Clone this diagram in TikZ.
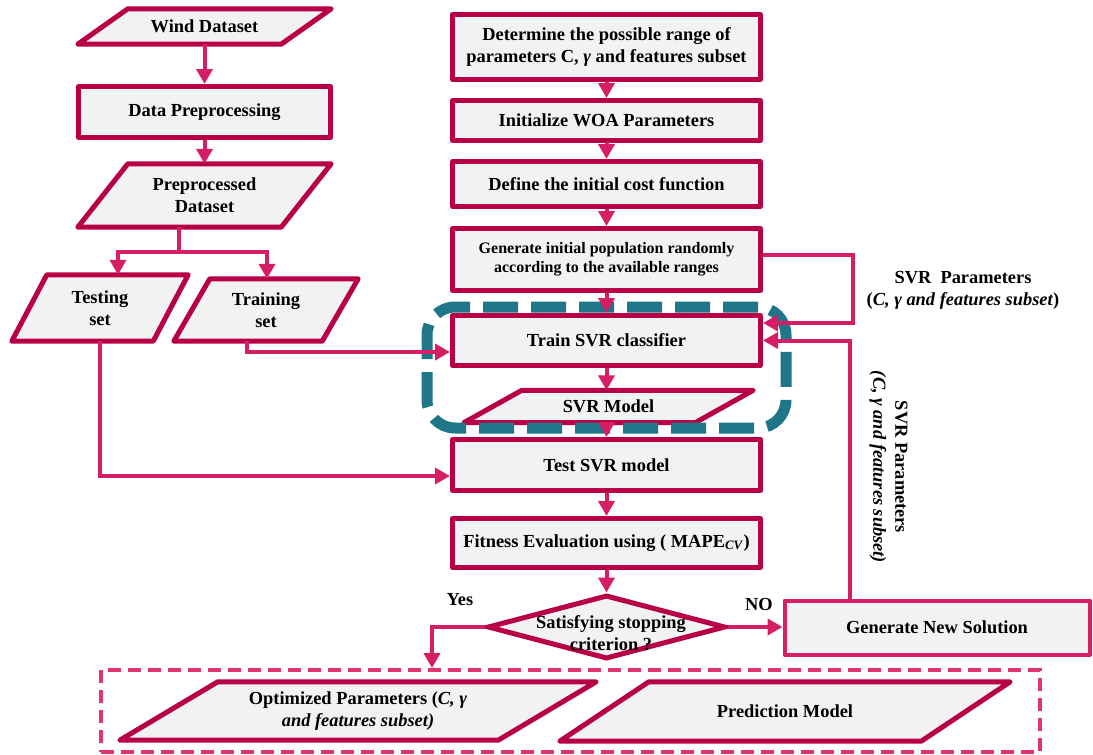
\documentclass[tikz,border=0pt]{standalone}
\usepackage{fontspec}
\setmainfont{Liberation Serif}
\usetikzlibrary{arrows.meta,shapes.geometric,backgrounds}
\definecolor{boxc}{HTML}{B80046}
\definecolor{connc}{HTML}{D61E64}
\definecolor{boxfill}{HTML}{F2F2F2}
\definecolor{tealc}{HTML}{1F7689}
\definecolor{outc}{HTML}{E2356E}
\newcommand\paradraw[2]{\begin{scope}[on background layer]\draw[parashape] ([xshift=#2]#1.north west) -- (#1.north east) -- ([xshift=-#2]#1.south east) -- (#1.south west) -- cycle;\end{scope}}
\begin{document}
\begin{tikzpicture}[x=1pt,y=-1pt,
  txtfont/.style={font=\fontsize{18.4}{22}\selectfont\bfseries},
  box/.style={txtfont,draw=boxc,line width=5pt,fill=boxfill,line join=round,inner sep=0pt,align=center,minimum width=308pt},
  para/.style={txtfont,inner sep=0pt,align=center},
  parashape/.style={draw=boxc,fill=boxfill,line width=5pt,line join=round},
  decbox/.style={diamond,draw=boxc,fill=boxfill,line width=5pt,inner sep=0pt,minimum width=238pt,minimum height=64pt},
  lbl/.style={txtfont,align=center,inner sep=0pt},
  line/.style={draw=connc,line width=4pt},
  conn/.style={line,-{Triangle[length=15pt,width=16pt]}},
  tealbox/.style={draw=tealc,line width=11pt,dash pattern=on 35pt off 13pt,rounded corners=28pt,inner sep=0pt},
  outbox/.style={draw=outc,line width=4pt,dash pattern=on 13pt off 7pt,inner sep=0pt}]
\useasboundingbox (0,0) rectangle (1093,755);

% left column
\node[para,minimum width=253pt,minimum height=35pt] (wind) at (204.5,26.5) {Wind Dataset}; \paradraw{wind}{50}
\node[box,minimum width=252pt,minimum height=51pt] (prep) at (204.5,112) {Data Preprocessing};
\node[para,minimum width=253pt,minimum height=63pt] (pre) at (204.5,195.5) {Preprocessed\\Dataset}; \paradraw{pre}{50}
\node[para,minimum width=176pt,minimum height=66pt] (testing) at (100,308) {Testing\\set}; \paradraw{testing}{35}
\node[para,minimum width=184pt,minimum height=62pt] (training) at (266,310) {Training\\set}; \paradraw{training}{36}

% right column
\node[box,minimum height=65pt] (det) at (606.5,47) {Determine the possible range of\\parameters C, \textit{γ} and features subset};
\node[box,minimum height=40pt] (init) at (606.5,120.5) {Initialize WOA Parameters};
\node[box,minimum height=45pt] (def) at (606.5,184) {Define the initial cost function};
\node[box,minimum height=62pt,font=\fontsize{16}{19}\selectfont\bfseries] (gen) at (606.5,259.5) {Generate initial population randomly\\according to the available ranges};
\node[box,minimum height=50pt] (train) at (606.5,340.5) {Train SVR classifier};
\node[para,minimum width=289pt,minimum height=32pt] (svrm) at (608.5,406.5) {SVR Model}; \paradraw{svrm}{58}
\node[box,minimum height=51pt] (tst) at (606.5,465) {Test SVR model};
\node[box,minimum height=49pt] (fit) at (606.5,543) {Fitness Evaluation using ( MAPE\textsubscript{\textit{CV}})};
\node[decbox] (dec) at (606.5,627) {};
\node[lbl] (dect) at (611,633) {Satisfying stopping\\criterion ?};
\node[box,draw=connc,line width=4pt,minimum width=305pt,minimum height=54pt] (gns) at (937,627.5) {Generate New Solution};

% group frame
\node[tealbox,minimum width=359pt,minimum height=121pt] (grp) at (606.5,367.5) {};

% output frame
\node[outbox,minimum width=939pt,minimum height=82pt] (out) at (570.5,711) {};
\node[para,minimum width=476pt,minimum height=58pt] (opt) at (358,711) {Optimized Parameters (\textit{C, γ}\\\textit{and features subset)}}; \paradraw{opt}{98}
\node[para,minimum width=450pt,minimum height=59pt] (pred) at (785,711.5) {Prediction Model}; \paradraw{pred}{89}

% labels
\node[lbl] (yes) at (460,600) {Yes};
\node[lbl] (no) at (759,604) {NO};
\node[lbl] (svrp) at (963,290) {SVR\ \ Parameters\\(\textit{C, γ and features subset})};
\node[lbl,rotate=-90] (svrp2) at (888.5,467) {SVR Parameters\\\textit{(C, γ and features subset)}};

% connectors
\draw[conn] (wind.south) -- (prep.north);
\draw[conn] (prep.south) -- (pre.north);
\coordinate (split) at (179,252);
\draw[line] (split |- pre.south) -- (split);
\draw[conn] (split) -| ([xshift=18pt]testing.north);
\draw[conn] (split) -| ([xshift=1pt]training.north);
\draw[conn] (testing.south) |- ([yshift=-11pt]tst.west);
\draw[conn] ([xshift=-19pt]training.south) |- ([yshift=-11.5pt]train.west);
\draw[conn] (det.south) -- (init.north);
\draw[conn] (init.south) -- (def.north);
\draw[conn] (def.south) -- (gen.north);
\draw[conn] (gen.south) -- (train.north);
\draw[conn] (train.south) -- (train.south |- svrm.north);
\draw[conn] (train.south |- svrm.south) -- (tst.north);
\draw[conn] (tst.south) -- (fit.north);
\draw[conn] (fit.south) -- (dec.north);
\coordinate (r1) at (853,323);
\draw[conn] ([yshift=4.5pt]gen.east) -| (r1) -- (r1 -| train.east);
\draw[conn] ([xshift=-87pt]gns.north) |- (train.east);
\draw[conn] (dec.east) -- (dec.east -| gns.west);
\coordinate (yx) at (432,0);
\draw[conn] (dec.west) -| (yx |- out.north);
\end{tikzpicture}
\end{document}
